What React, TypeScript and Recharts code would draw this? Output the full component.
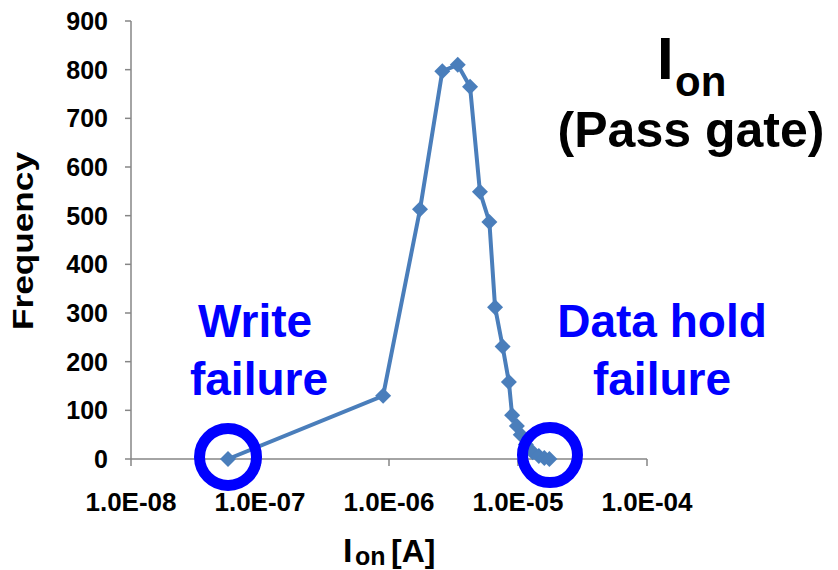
import React from 'react'
import { LineChart, Line, XAxis, YAxis, ReferenceDot } from 'recharts'

// on-current [A] and how many cells fell in each bin
const current = [
  5.65e-8, 9.0e-7, 1.74e-6, 2.59e-6, 3.41e-6, 4.25e-6, 5.07e-6, 6.0e-6, 6.64e-6, 7.6e-6,
  8.5e-6, 9.0e-6, 9.8e-6, 1.05e-5, 1.15e-5, 1.3e-5, 1.45e-5, 1.6e-5, 1.75e-5,
]
const frequency = [0, 130, 513, 797, 810, 765, 549, 487, 312, 231, 158, 90, 68, 50, 30, 14, 6, 2, 0]

const xTicks = [1e-8, 1e-7, 1e-6, 1e-5, 1e-4]
const yTicks = [0, 100, 200, 300, 400, 500, 600, 700, 800, 900]

// circled failure regions: [current, frequency]
const writeFailure = [5.65e-8, 4]
const holdFailure = [1.77e-5, 8]

const data = current.map((c, i) => ({ current: c, freq: frequency[i] }))

const FONT = '"Liberation Sans", Arial, sans-serif'
const AXIS = '#868686'
const SERIES = '#4A7EBB'
const BLUE = '#0000FF'

const sci = (v: number) => {
  const e = Math.round(Math.log10(v))
  const m = v / Math.pow(10, e)
  const sign = e < 0 ? '-' : '+'
  return `${m.toFixed(1)}E${sign}${String(Math.abs(e)).padStart(2, '0')}`
}

const Diamond = (props: any) => {
  const { cx, cy, index } = props
  if (cx == null || cy == null) return null
  const s = 8
  return (
    <polygon
      key={`d-${index}`}
      points={`${cx},${cy - s} ${cx + s},${cy} ${cx},${cy + s} ${cx - s},${cy}`}
      fill={SERIES}
    />
  )
}

export default function App() {
  return (
    <div style={{ position: 'absolute', left: 0, top: 0, width: 838, height: 570, background: '#fff' }}>
      <LineChart width={838} height={570} data={data} margin={{ top: 21, right: 191, bottom: 0, left: 0 }}>
        <XAxis
          dataKey="current"
          type="number"
          scale="log"
          domain={[1e-8, 1e-4]}
          ticks={xTicks}
          tickFormatter={sci}
          allowDataOverflow
          height={111}
          tickSize={7}
          tickMargin={27}
          stroke={AXIS}
          strokeWidth={1.5}
          tick={{ fill: '#000', fontSize: 26, fontWeight: 700, fontFamily: FONT }}
        />
        <YAxis
          type="number"
          domain={[0, 900]}
          ticks={yTicks}
          width={131}
          tickSize={6}
          tickMargin={17}
          stroke={AXIS}
          strokeWidth={1.5}
          tick={{ fill: '#000', fontSize: 25, fontWeight: 700, fontFamily: FONT }}
        />
        <Line
          dataKey="freq"
          stroke={SERIES}
          strokeWidth={4}
          dot={Diamond}
          activeDot={false}
          isAnimationActive={false}
        />
        <ReferenceDot x={writeFailure[0]} y={writeFailure[1]} r={28.5} fill="none" stroke={BLUE} strokeWidth={11} />
        <ReferenceDot x={holdFailure[0]} y={holdFailure[1]} r={27.5} fill="none" stroke={BLUE} strokeWidth={11} />
      </LineChart>
      <svg
        width={838}
        height={570}
        style={{ position: 'absolute', left: 0, top: 0, pointerEvents: 'none' }}
        fontFamily={FONT}
        fontWeight={700}
      >
        <text
          x={33}
          y={241}
          transform="rotate(-90 33 241)"
          textAnchor="middle"
          fontSize={29}
          textLength={178}
          lengthAdjust="spacingAndGlyphs"
        >
          Frequency
        </text>
        <text x={343} y={562} fontSize={34}>I</text>
        <text x={355} y={565} fontSize={25}>on</text>
        <text x={391} y={562} fontSize={32}>[A]</text>

        <text x={657} y={79} fontSize={60}>I</text>
        <text x={675} y={96} fontSize={42}>on</text>
        <text x={691} y={147} fontSize={50} textAnchor="middle">(Pass gate)</text>

        <g fill={BLUE} fontSize={46} textAnchor="middle">
          <text x={255} y={337}>Write</text>
          <text x={259} y={395}>failure</text>
          <text x={662} y={337}>Data hold</text>
          <text x={662} y={395}>failure</text>
        </g>
      </svg>
    </div>
  )
}
